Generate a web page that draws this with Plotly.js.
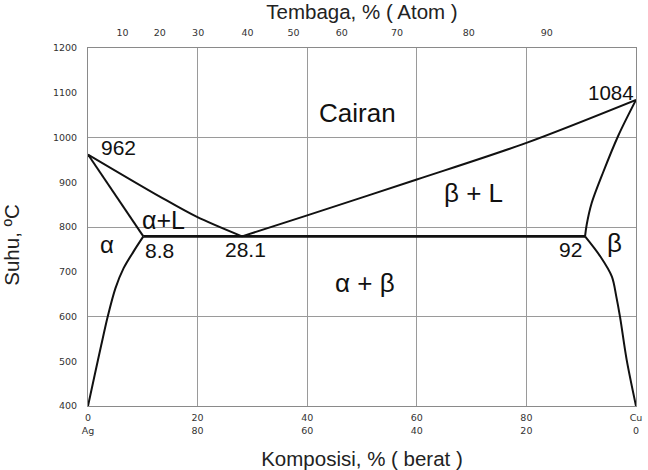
<!DOCTYPE html>
<html>
<head>
<meta charset="utf-8">
<script src="https://cdn.plot.ly/plotly-3.0.1.min.js"></script>
<style>html,body{margin:0;padding:0;background:#fff;}#chart{width:648px;height:470px;}</style>
</head>
<body>
<div id="chart"></div>
<script>
// Phase boundaries: x = % Cu (berat), y = temperature (°C)
const liquidusL_x = [0, 13.1, 19.8, 28.1];
const liquidusL_y = [962, 868, 823, 779];
const liquidusR_x = [28.1, 40, 60, 80, 100];
const liquidusR_y = [779, 826, 906, 988, 1084];
const solidusL_x = [0, 10.1];
const solidusL_y = [962, 779];
const solvusL_x = [10.1, 8.3, 6.5, 5.0, 3.6, 2.4, 1.2, 0];
const solvusL_y = [779, 745, 708, 663, 600, 535, 468, 400];
const eutectic_x = [10.1, 28.1, 90.7];
const eutectic_y = [779, 779, 779];
const solidusR_x = [100, 96.8, 93.9, 91.9, 91.0, 90.7];
const solidusR_y = [1084, 1005, 919, 853, 805, 779];
const solvusR_x = [90.7, 93.5, 95.6, 96.4, 97.1, 98.3, 100];
const solvusR_y = [779, 734, 689, 645, 598, 503, 400];

// Axes
const bottomTickVals = [0, 20, 40, 60, 80, 100];
const bottomTickText = ['0<br>Ag', '20<br>80', '40<br>60', '60<br>40', '80<br>20', 'Cu<br>0'];
const topTickVals = [6.3, 13.1, 20.1, 29.1, 37.5, 46.3, 56.4, 69.5, 83.7];
const topTickText = ['10', '20', '30', '40', '50', '60', '70', '80', '90'];
const yTickVals = [400, 500, 600, 700, 800, 900, 1000, 1100, 1200];
const yGridVals = [600, 800, 1000];

// Region / point labels
const labelText = ['Cairan', '962', '1084', 'α+L', 'α', '8.8', '28.1', 'β + L', 'α + β', '92', 'β'];
const labelX = [49.1, 5.5, 95.4, 13.8, 3.4, 13.1, 28.8, 70.3, 50.6, 88.0, 96.0];
const labelY = [1055, 977, 1100, 816, 762, 747, 749, 877, 674, 749, 764];
const labelSize = [26, 21, 20.5, 25, 24, 21, 21, 26, 26, 21, 26];

function curve(x, y, w, smooth) {
  return {x: x, y: y, type: 'scatter', mode: 'lines', hoverinfo: 'skip',
          line: {color: '#111', width: w || 2, shape: smooth ? 'spline' : 'linear', smoothing: 0.9}};
}
const traces = [
  curve(liquidusL_x, liquidusL_y, 2, true),
  curve(liquidusR_x, liquidusR_y, 2, true),
  curve(solidusL_x, solidusL_y, 2, false),
  curve(solvusL_x, solvusL_y, 2, true),
  curve(eutectic_x, eutectic_y, 2.6, false),
  curve(solidusR_x, solidusR_y, 2, true),
  curve(solvusR_x, solvusR_y, 2, true),
  {x: [null], y: [null], xaxis: 'x2', yaxis: 'y2', type: 'scatter', mode: 'lines', hoverinfo: 'skip', showlegend: false}
];

const tickFont = {family: 'DejaVu Sans, Verdana, sans-serif', size: 9.5, color: '#333'};
const titleFont = {family: 'Liberation Sans, Arial, sans-serif', size: 20.5, color: '#222'};

const annotations = labelText.map((t, i) => ({
  x: labelX[i], y: labelY[i], xref: 'x', yref: 'y', text: t, showarrow: false,
  xanchor: 'center', yanchor: 'middle',
  font: {family: 'Liberation Sans, Arial, sans-serif', size: labelSize[i], color: '#111'}
}));
// y-axis title (placed slightly below centre as in the original)
annotations.push({
  xref: 'paper', yref: 'paper', x: -0.139, y: 0.45, text: 'Suhu, ºC', textangle: -90,
  showarrow: false, xanchor: 'center', yanchor: 'middle', font: titleFont
});

const layout = {
  width: 648, height: 470,
  margin: {l: 88, r: 12, t: 48, b: 64},
  paper_bgcolor: '#fff', plot_bgcolor: '#fff',
  showlegend: false,
  xaxis: {
    range: [0, 100], tickvals: bottomTickVals, ticktext: bottomTickText,
    showgrid: true, gridcolor: '#9a9a9a', gridwidth: 1,
    zeroline: false, showline: true, mirror: true, linecolor: '#8a8a8a', linewidth: 1,
    ticks: 'outside', ticklen: 3, tickcolor: 'rgba(0,0,0,0)',
    tickfont: tickFont,
    title: {text: 'Komposisi, % ( berat )', font: titleFont, standoff: 17}
  },
  xaxis2: {
    range: [0, 100], overlaying: 'x', side: 'top', anchor: 'y',
    tickvals: topTickVals, ticktext: topTickText,
    showgrid: false, zeroline: false, showline: false,
    ticks: 'outside', ticklen: 7, tickcolor: 'rgba(0,0,0,0)',
    tickfont: tickFont,
    title: {text: 'Tembaga, % ( Atom )', font: titleFont, standoff: 8}
  },
  yaxis: {
    range: [400, 1200], tickvals: yTickVals,
    showgrid: false, zeroline: false, showline: true, mirror: true, linecolor: '#8a8a8a', linewidth: 1,
    ticks: 'outside', ticklen: 8, tickcolor: 'rgba(0,0,0,0)',
    tickfont: tickFont
  },
  yaxis2: {
    range: [400, 1200], overlaying: 'y', side: 'left', anchor: 'x',
    tickvals: yGridVals, showticklabels: false, ticks: '',
    showgrid: true, gridcolor: '#9a9a9a', gridwidth: 1, zeroline: false, showline: false
  },
  annotations: annotations
};

Plotly.newPlot('chart', traces, layout, {staticPlot: true, displayModeBar: false});
</script>
</body>
</html>
